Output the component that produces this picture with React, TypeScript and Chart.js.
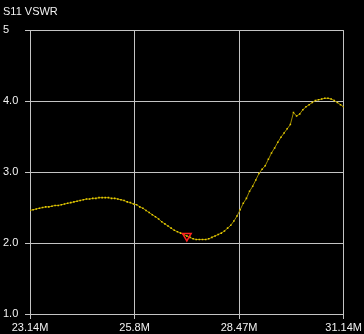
import React, { useEffect, useRef } from "react";
import { Chart, registerables } from "chart.js";

Chart.register(...registerables);

const TITLE = "S11 VSWR";
const START_MHZ = 23.14;
const STEP_MHZ = 0.08;
const X_TICKS = [23.14, 25.8067, 28.4733, 31.14];
const X_TICK_LABELS = ["23.14M", "25.8M", "28.47M", "31.14M"];
const Y_TICKS = [1, 2, 3, 4, 5];
const Y_TICK_LABELS = ["1.0", "2.0", "3.0", "4.0", "5"];
const VSWR = [
  2.46, 2.47, 2.48, 2.49, 2.5, 2.51, 2.51, 2.52, 2.53, 2.53,
  2.54, 2.55, 2.56, 2.57, 2.58, 2.59, 2.6, 2.61, 2.62, 2.62,
  2.63, 2.63, 2.64, 2.64, 2.64, 2.64, 2.63, 2.63, 2.62, 2.61,
  2.6, 2.58, 2.57, 2.55, 2.54, 2.51, 2.49, 2.46, 2.43, 2.4,
  2.37, 2.34, 2.3, 2.27, 2.24, 2.21, 2.18, 2.16, 2.14, 2.12,
  2.1, 2.08, 2.06, 2.05, 2.05, 2.05, 2.05, 2.06, 2.08, 2.1,
  2.12, 2.14, 2.17, 2.21, 2.25, 2.31, 2.38, 2.47, 2.56, 2.63,
  2.73, 2.8, 2.89, 2.98, 3.04, 3.09, 3.18, 3.27, 3.34, 3.42,
  3.49, 3.55, 3.61, 3.67, 3.84, 3.79, 3.82, 3.88, 3.92, 3.95,
  3.98, 4.01, 4.02, 4.03, 4.04, 4.04, 4.03, 4.01, 3.98, 3.95,
  3.92,
];
const MARKER_INDEX = 50;

export default function App() {
  const ref = useRef<HTMLCanvasElement | null>(null);

  useEffect(() => {
    document.body.style.margin = "0";
    document.body.style.background = "#000";
    const canvas = ref.current;
    if (!canvas) return;
    const points = VSWR.map((v, i) => ({ x: START_MHZ + i * STEP_MHZ, y: v }));
    const marker = [points[MARKER_INDEX]];
    const font = { family: "'Liberation Sans', Arial, sans-serif", size: 11 };
    const gridColor = "#c4c4c4";
    const textColor = "#f2f2f2";

    const bg = {
      id: "bg",
      beforeDraw(chart: any) {
        const ctx = chart.ctx;
        ctx.save();
        ctx.fillStyle = "#000";
        ctx.fillRect(0, 0, chart.width, chart.height);
        ctx.restore();
      },
    };

    const chart = new Chart(canvas, {
      type: "line",
      data: {
        datasets: [
          {
            data: marker,
            borderColor: "#ff2020",
            backgroundColor: "rgba(0,0,0,0)",
            pointStyle: "triangle",
            rotation: 180,
            pointRadius: 5,
            pointBorderWidth: 1.5,
            showLine: false,
          } as any,
          {
            data: points,
            borderColor: "#9c8a00",
            borderWidth: 1,
            pointStyle: "rect",
            pointRadius: 1.1,
            pointBorderWidth: 0,
            pointBackgroundColor: "#e8cc00",
            tension: 0,
          } as any,
        ],
      },
      options: {
        animation: false,
        responsive: false,
        events: [],
        layout: { padding: { left: 3, right: 20, top: 0, bottom: 0 } },
        plugins: {
          legend: { display: false },
          tooltip: { enabled: false },
          title: {
            display: true,
            text: TITLE,
            align: "start",
            color: textColor,
            font: { ...font, weight: "normal" },
            padding: { top: 5, bottom: 12 },
          },
        },
        scales: {
          x: {
            type: "linear",
            min: X_TICKS[0],
            max: X_TICKS[X_TICKS.length - 1],
            afterBuildTicks: (s: any) => {
              s.ticks = X_TICKS.map((v) => ({ value: v }));
            },
            afterFit: (s: any) => {
              s.height = 20;
            },
            ticks: {
              color: textColor,
              font,
              padding: 2,
              maxRotation: 0,
              autoSkip: false,
              callback: (_v: any, i: number) => X_TICK_LABELS[i],
            },
            grid: { color: gridColor, lineWidth: 1, tickLength: 5 },
            border: { display: false },
          },
          y: {
            type: "linear",
            min: Y_TICKS[0],
            max: Y_TICKS[Y_TICKS.length - 1],
            afterBuildTicks: (s: any) => {
              s.ticks = Y_TICKS.map((v) => ({ value: v }));
            },
            afterFit: (s: any) => {
              s.width = 27;
            },
            ticks: {
              color: textColor,
              font,
              padding: 2,
              crossAlign: "far",
              autoSkip: false,
              callback: (_v: any, i: number) => Y_TICK_LABELS[i],
            },
            grid: { color: gridColor, lineWidth: 1, tickLength: 5 },
            border: { display: false },
          },
        },
      } as any,
      plugins: [bg],
    });
    return () => chart.destroy();
  }, []);

  return (
    <div style={{ width: 364, height: 334, background: "#000" }}>
      <canvas ref={ref} width={364} height={334} style={{ display: "block" }} />
    </div>
  );
}
